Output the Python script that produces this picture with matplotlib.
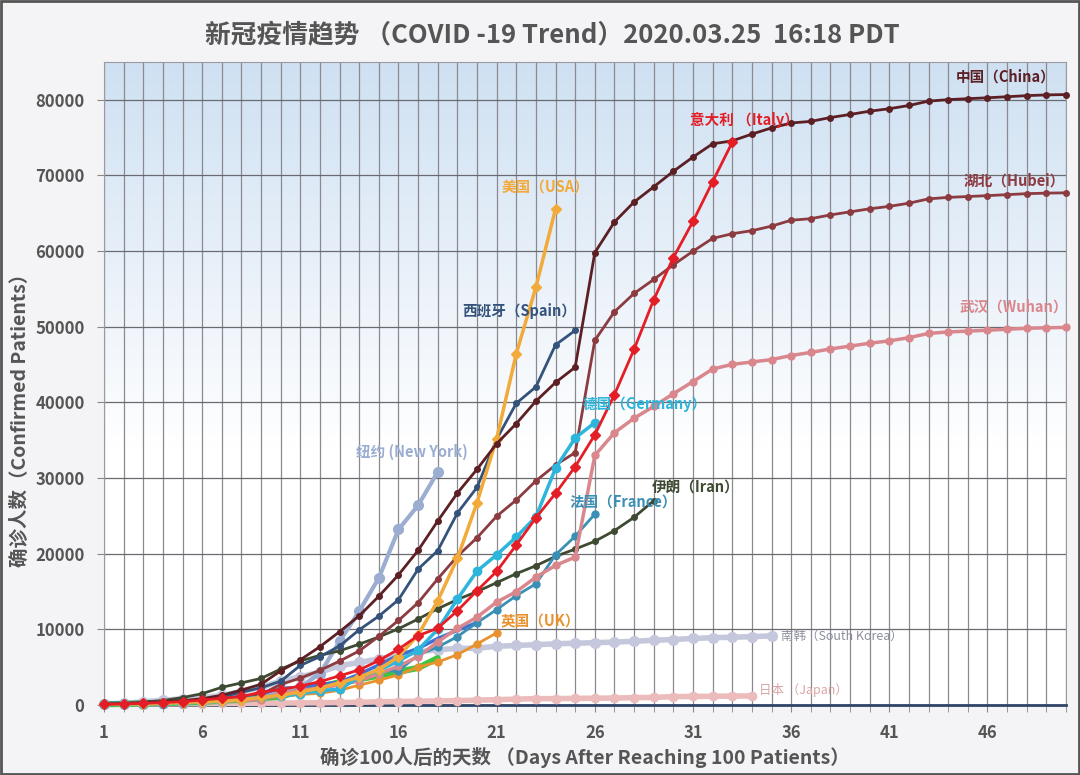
import matplotlib
matplotlib.use("Agg")
import matplotlib.pyplot as plt
import numpy as np

plt.rcParams['font.family'] = ['Noto Sans CJK SC', 'DejaVu Sans']

# confirmed patients, day 1 = first day with ~100 cases
china = [121, 198, 291, 440, 571, 830, 1287, 1975, 2744, 4515, 5974, 7711, 9692, 11791,
         14380, 17205, 20438, 24324, 28018, 31161, 34546, 37198, 40171, 42638, 44653,
         59804, 63851, 66492, 68500, 70548, 72436, 74185, 74576, 75465, 76288, 76936,
         77150, 77658, 78064, 78497, 78824, 79251, 79824, 80026, 80151, 80270, 80409,
         80552, 80651, 80695]
hubei = [121, 198, 270, 375, 444, 549, 729, 1052, 1423, 2714, 3554, 4586, 5806, 7153,
         9074, 11177, 13522, 16678, 19665, 22112, 24953, 27100, 29631, 31728, 33366,
         48206, 51986, 54406, 56249, 58182, 59989, 61682, 62300, 62700, 63300, 64084,
         64287, 64786, 65187, 65596, 65914, 66337, 66907, 67103, 67217, 67332, 67466,
         67592, 67666, 67707]
wuhan = [121, 198, 258, 363, 425, 495, 572, 618, 698, 1590, 1905, 2261, 2639, 3215,
         4109, 5142, 6384, 8351, 10117, 11618, 13603, 14982, 16902, 18454, 19558,
         32994, 35991, 37914, 39462, 41152, 42752, 44412, 45027, 45346, 45660, 46201,
         46607, 47071, 47441, 47824, 48137, 48557, 49122, 49315, 49426, 49540, 49671,
         49797, 49871, 49912]
italy = [79, 155, 229, 322, 453, 655, 888, 1128, 1694, 2036, 2502, 3089, 3858, 4636,
         5883, 7375, 9172, 10149, 12462, 15113, 17660, 21157, 24747, 27980, 31506,
         35713, 41035, 47021, 53578, 59138, 63927, 69176, 74386]
usa = [100, 124, 158, 221, 319, 435, 541, 704, 994, 1301, 1697, 2247, 2943, 3680, 4663,
       6411, 9259, 13789, 19383, 26747, 35206, 46442, 55231, 65600]
spain = [165, 222, 259, 400, 500, 673, 1073, 1695, 2277, 3146, 5232, 6391, 7798, 9942,
         11748, 13910, 17963, 20410, 25374, 28768, 35136, 39885, 42058, 47610, 49515]
germany = [79, 130, 159, 196, 262, 482, 670, 799, 1040, 1176, 1457, 1908, 2078, 3675,
           4585, 5795, 7272, 10000, 14000, 17700, 19848, 22213, 24873, 31300, 35300, 37323]
france = [100, 130, 191, 204, 285, 377, 653, 949, 1126, 1209, 1784, 2281, 2876, 3661,
          4469, 4499, 6633, 7652, 9043, 10871, 12612, 14459, 16018, 19856, 22304, 25233]
iran = [139, 245, 388, 593, 978, 1501, 2336, 2922, 3513, 4747, 5823, 6566, 7161, 8042,
        9000, 10075, 11364, 12729, 13938, 14991, 16169, 17361, 18407, 19644, 20610,
        21638, 23049, 24811, 27017]
new_york = [105, 142, 173, 216, 325, 421, 524, 729, 950, 1700, 2382, 4152, 8400, 12400,
            16800, 23200, 26400, 30811]
uk = [116, 164, 207, 273, 321, 383, 460, 590, 798, 1140, 1391, 1543, 1950, 2626, 3269,
      3983, 5018, 5683, 6650, 8077, 9529]
korea = [104, 204, 433, 602, 833, 977, 1261, 1766, 2337, 3150, 3736, 4335, 5186, 5621,
         6088, 6593, 7041, 7313, 7478, 7513, 7755, 7869, 7979, 8086, 8162, 8236, 8320,
         8413, 8565, 8652, 8799, 8897, 8961, 9037, 9137]
japan = [105, 132, 144, 157, 170, 189, 214, 228, 241, 256, 274, 293, 331, 360, 420, 461,
         502, 530, 581, 639, 701, 773, 839, 839, 878, 889, 924, 963, 1007, 1101, 1128,
         1150, 1180, 1200]
green_grp = [100, 150, 200, 260, 330, 420, 560, 700, 900, 1100, 1900, 2400, 3000, 3400,
             3900, 4400, 4900, 6200]
blue_grp = [214, 268, 337, 374, 491, 652, 858, 1125, 1359, 2200, 2330, 2700, 3028, 4075,
            5294, 6575, 7474, 8795, 9877, 10897]

# name, data, line colour, lw, marker, ms, label offset (px), font size, weight, label colour
series = [
    ("日本 （Japan）", japan, "#ebbcbb", 4, "o", 6, (52, 6), 9, "normal", "#d9a4a4"),
    ("南韩（South Korea）", korea, "#c5c8dd", 4, "o", 7, (70, 0), 9, "normal", "#8d8f9e"),
    (None, green_grp, "#3fc43f", 4.5, None, 0, None, 0, None, None),
    (None, blue_grp, "#3d72d4", 2.5, None, 0, None, 0, None, None),
    ("英国（UK）", uk, "#e8922f", 2, "o", 5, (44, 12), 10.5, "bold", "#e8922f"),
    ("纽约 (New York)", new_york, "#9badd0", 3, "o", 7, (-26, 20), 10.5, "bold", "#9badd0"),
    ("伊朗（Iran）", iran, "#3e4a32", 2, "o", 4, (42, 13), 10.5, "bold", "#3e4a32"),
    ("法国（France）", france, "#3a8fb5", 2, "o", 5, (28, 13), 10.5, "bold", "#3a8fb5"),
    ("武汉（Wuhan）", wuhan, "#d9878d", 2.5, "o", 5, (-52, 21), 10.5, "bold", "#d9878d"),
    ("湖北（Hubei）", hubei, "#8c3b40", 2, "o", 4, (-52, 12), 10.5, "bold", "#8c3b40"),
    ("德国（Germany）", germany, "#2db5dc", 2.5, "o", 6, (50, 19), 10.5, "bold", "#2db5dc"),
    ("西班牙（Spain）", spain, "#34527a", 2, "o", 4, (-56, 19), 10.5, "bold", "#34527a"),
    ("美国（USA）", usa, "#f2aa3a", 2.5, "D", 5, (-10, 22), 10.5, "bold", "#f2aa3a"),
    ("中国（China）", china, "#5c1f24", 2, "o", 4, (-60, 18), 10.5, "bold", "#5c1f24"),
    ("意大利 （Italy）", italy, "#e41e26", 2, "D", 5, (12, 22), 10.5, "bold", "#e41e26"),
]

fig = plt.figure(figsize=(10.8, 7.75), dpi=100, facecolor="#f4f4f6")
ax = fig.add_axes([104 / 1080, 1 - 705 / 775, (1066 - 104) / 1080, (705 - 62) / 775])

# blue-to-white gradient background
grad = np.linspace(1, 0, 256).reshape(-1, 1)
grad = np.clip((grad - 0.4) / 0.6, 0, 1)
top = np.array([0.81, 0.88, 0.95])
bot = np.array([1.0, 1.0, 1.0])
img = bot + (top - bot) * grad[..., None]
ax.imshow(img, extent=[0, 1, 0, 1], transform=ax.transAxes, aspect="auto", zorder=0)

ax.set_xlim(1, 50)
ax.set_ylim(0, 85000)
ax.set_xticks(np.arange(1, 50, 5))
ax.set_xticks(np.arange(1, 51, 1), minor=True)
ax.set_yticks(np.arange(0, 80001, 10000))
ax.grid(True, which="both", axis="x", color="#8a8a90", lw=0.9, zorder=1)
ax.grid(True, which="major", axis="y", color="#6a6a70", lw=0.9, zorder=1)
ax.tick_params(axis="both", which="major", colors="#888888", labelcolor="#555555",
               labelsize=12, length=5, pad=9)
ax.tick_params(axis="x", which="minor", colors="#888888", length=5)
for lab in ax.get_xticklabels() + ax.get_yticklabels():
    lab.set_fontweight("bold")
for s in ["left", "right", "top"]:
    ax.spines[s].set_color("#9a9aa0")
ax.spines["bottom"].set_color("#2f4466")
ax.spines["bottom"].set_linewidth(2)

for name, vals, color, lw, mk, ms, off, fs, fw, lc in series:
    days = np.arange(1, len(vals) + 1)
    ax.plot(days, vals, color=color, lw=lw, marker=mk, ms=ms, mfc=color, mec=color,
            zorder=3, clip_on=False, solid_capstyle="round")
    if name:
        ax.annotate(name, xy=(days[-1], vals[-1]), xytext=off, textcoords="offset pixels",
                    ha="center", va="center", color=lc, fontsize=fs, fontweight=fw,
                    zorder=5)

fig.text(0.511, 1 - 36 / 775, "新冠疫情趋势 （COVID -19 Trend）2020.03.25  16:18 PDT",
         ha="center", va="center", fontsize=18.5, fontweight="bold", color="#555555")
ax.set_xlabel("确诊100人后的天数 （Days After Reaching 100 Patients）", fontsize=14,
              fontweight="bold", color="#555555", labelpad=3)
ax.set_ylabel("确诊人数（Confirmed Patients）", fontsize=14, fontweight="bold",
              color="#555555")
ax.yaxis.set_label_coords(-0.077, 0.45)

fig.patches.append(plt.Rectangle((0.001, 0.001), 0.998, 0.998, transform=fig.transFigure,
                                 fill=False, edgecolor="#555555", lw=2))

fig.savefig("out.png", dpi=100, facecolor=fig.get_facecolor())
